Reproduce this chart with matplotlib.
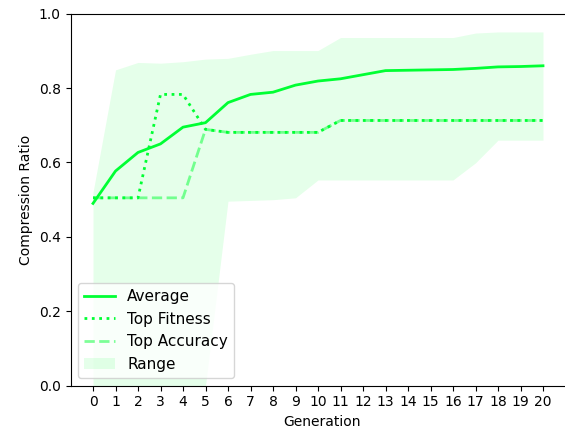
import numpy as np
import matplotlib
matplotlib.use('Agg')
import matplotlib.pyplot as plt

generations = list(range(21))
average = [0.49, 0.577, 0.627, 0.650, 0.695, 0.707, 0.761, 0.783, 0.789, 0.808, 0.819,
           0.825, 0.836, 0.847, 0.848, 0.849, 0.850, 0.853, 0.857, 0.858, 0.860]
top_fitness = [0.505, 0.505, 0.505, 0.783, 0.783, 0.689, 0.681, 0.681, 0.681, 0.681, 0.681,
               0.713, 0.713, 0.713, 0.713, 0.713, 0.713, 0.713, 0.713, 0.713, 0.713]
top_accuracy = [0.505, 0.505, 0.505, 0.505, 0.505, 0.689, 0.681, 0.681, 0.681, 0.681, 0.681,
                0.713, 0.713, 0.713, 0.713, 0.713, 0.713, 0.713, 0.713, 0.713, 0.713]
range_max = [0.52, 0.849, 0.869, 0.867, 0.871, 0.878, 0.880, 0.891, 0.901, 0.901, 0.901,
             0.936, 0.936, 0.936, 0.936, 0.936, 0.936, 0.948, 0.951, 0.951, 0.951]
range_min = [0.0, 0.0, 0.0, 0.0, 0.0, 0.0, 0.496, 0.498, 0.500, 0.505, 0.553,
             0.553, 0.553, 0.553, 0.553, 0.553, 0.553, 0.599, 0.660, 0.660, 0.660]

green = '#00ff33'

fig = plt.figure(figsize=(5.65, 4.32), dpi=100)
# right edge of the axes sits past the figure, as in the cropped original
ax = fig.add_axes([70.5 / 565, (432 - 385.7) / 432, 504 / 565, 372 / 432])

ax.plot(generations, average, color=green, linewidth=2, label='Average')
ax.plot(generations, top_fitness, color=green, linewidth=2, linestyle=':', label='Top Fitness')
ax.plot(generations, top_accuracy, color=green, linewidth=2, linestyle='--', alpha=0.5,
        label='Top Accuracy')
ax.fill_between(generations, range_min, range_max, color=green, alpha=0.1, linewidth=0,
                label='Range')

ax.set_xlim(-1, 21.4)
ax.set_ylim(0, 1)
ax.set_xticks(generations)
ax.spines['right'].set_visible(False)
ax.set_xlabel('Generation', position=(496 / 504 / 2, 0))
ax.set_ylabel('Compression Ratio')
ax.legend(loc='lower left', fontsize=11)

fig.savefig('out.png', dpi=100)
